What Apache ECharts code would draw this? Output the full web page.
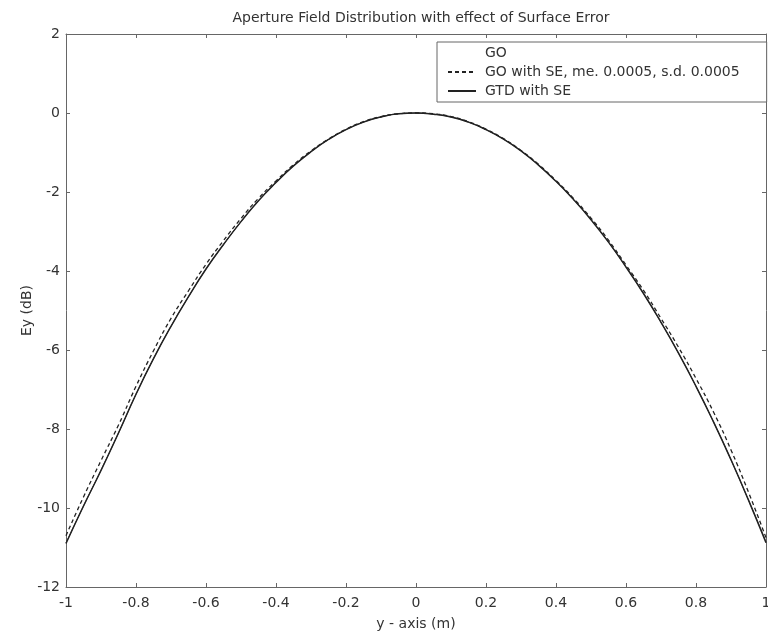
<!DOCTYPE html>
<html>
<head>
<meta charset="utf-8">
<script src="https://cdn.jsdelivr.net/npm/echarts@6/dist/echarts.min.js"></script>
<style>
html,body{margin:0;padding:0;background:#fff;overflow:hidden;}
#chart{width:768px;height:636px;}
</style>
</head>
<body>
<div id="chart"></div>
<script>
// y-axis positions (m)
var yPos = [-1,-0.95,-0.9,-0.85,-0.8,-0.75,-0.7,-0.65,-0.6,-0.55,-0.5,-0.45,-0.4,-0.35,-0.3,-0.25,-0.2,-0.15,-0.1,-0.05,0,
            0.05,0.1,0.15,0.2,0.25,0.3,0.35,0.4,0.45,0.5,0.55,0.6,0.65,0.7,0.75,0.8,0.85,0.9,0.95,1];
// GO (dB)
var goVals = [-10.88,-9.95,-9.04,-8.1,-7.12,-6.22,-5.4,-4.65,-3.95,-3.33,-2.75,-2.22,-1.76,-1.34,-0.98,-0.67,-0.42,-0.23,-0.1,-0.02,0,
              -0.03,-0.1,-0.23,-0.42,-0.66,-0.96,-1.32,-1.73,-2.19,-2.7,-3.27,-3.9,-4.57,-5.3,-6.08,-6.92,-7.82,-8.78,-9.8,-10.85];
// GO with SE, me. 0.0005, s.d. 0.0005 (dB)
var goSeVals = [-10.7,-9.72,-8.8,-7.9,-6.92,-6.02,-5.2,-4.5,-3.83,-3.23,-2.67,-2.16,-1.72,-1.31,-0.96,-0.66,-0.41,-0.22,-0.09,-0.02,0,
                -0.02,-0.09,-0.22,-0.41,-0.65,-0.95,-1.3,-1.71,-2.16,-2.66,-3.22,-3.85,-4.49,-5.2,-5.93,-6.72,-7.57,-8.53,-9.6,-10.75];
// GTD with SE (dB)
var gtdVals = [-10.9,-9.95,-9.05,-8.1,-7.12,-6.22,-5.4,-4.65,-3.95,-3.33,-2.75,-2.22,-1.76,-1.34,-0.98,-0.67,-0.42,-0.23,-0.1,-0.02,0,
               -0.03,-0.1,-0.23,-0.42,-0.66,-0.96,-1.32,-1.73,-2.19,-2.7,-3.27,-3.9,-4.57,-5.3,-6.08,-6.92,-7.82,-8.78,-9.8,-10.88];
var xTickLabels = ['-1','-0.8','-0.6','-0.4','-0.2','0','0.2','0.4','0.6','0.8','1'];
var yTickLabels = ['-12','-10','-8','-6','-4','-2','0','2'];

function pairs(vals){ return yPos.map(function(x,i){ return [x, vals[i]]; }); }

var FONT = 'DejaVu Sans, Liberation Sans, Arial, sans-serif';
var TXT = '#333';
var AX = '#666';

var chart = echarts.init(document.getElementById('chart'), null, {renderer:'canvas', width:768, height:636});
var tickFmtX = function(v){ var i = Math.round((v+1)/0.2); return xTickLabels[i] || ''; };
var tickFmtY = function(v){ var i = Math.round((v+12)/2); return yTickLabels[i] || ''; };

chart.setOption({
  animation:false,
  backgroundColor:'#fff',
  title:{
    text:'Aperture Field Distribution with effect of Surface Error',
    left:416, top:6, textAlign:'center',
    textStyle:{fontFamily:FONT, fontSize:14, fontWeight:'normal', color:TXT}
  },
  legend:{
    orient:'vertical',
    left:437, top:42,
    padding:[4,27,4,10],
    itemWidth:28, itemHeight:14, itemGap:5,
    borderColor:AX, borderWidth:1, backgroundColor:'#fff',
    itemStyle:{opacity:0},
    textStyle:{fontFamily:FONT, fontSize:14, color:TXT, padding:[0,0,0,4]},
    data:[
      {name:'GO', lineStyle:{opacity:0}},
      {name:'GO with SE, me. 0.0005, s.d. 0.0005'},
      {name:'GTD with SE'}
    ]
  },
  grid:{left:66, right:2, top:34, bottom:49, containLabel:false, outerBoundsMode:'none'},
  xAxis:[{
    type:'value', min:-1, max:1, interval:0.2,
    name:'y - axis (m)', nameLocation:'middle', nameGap:30, nameMoveOverlap:false,
    nameTextStyle:{fontFamily:FONT, fontSize:14, color:TXT},
    axisLine:{onZero:false, lineStyle:{color:AX, width:1}},
    axisTick:{inside:true, length:4, lineStyle:{color:AX}},
    axisLabel:{fontFamily:FONT, fontSize:14, color:TXT, margin:9, formatter:tickFmtX},
    splitLine:{show:false}
  },{
    type:'value', min:-1, max:1, interval:0.2, position:'top',
    axisLine:{onZero:false, lineStyle:{color:AX, width:1}},
    axisTick:{inside:true, length:4, lineStyle:{color:AX}},
    axisLabel:{show:false}, splitLine:{show:false}
  }],
  yAxis:[{
    type:'value', min:-12, max:2, interval:2,
    name:'Ey (dB)', nameLocation:'middle', nameGap:32, nameRotate:90, nameMoveOverlap:false,
    nameTextStyle:{fontFamily:FONT, fontSize:14, color:TXT},
    axisLine:{onZero:false, lineStyle:{color:AX, width:1}},
    axisTick:{inside:true, length:4, lineStyle:{color:AX}},
    axisLabel:{fontFamily:FONT, fontSize:14, color:TXT, margin:6, formatter:tickFmtY},
    splitLine:{show:false}
  },{
    type:'value', min:-12, max:2, interval:2, position:'right',
    axisLine:{onZero:false, lineStyle:{color:AX, width:1}},
    axisTick:{inside:true, length:4, lineStyle:{color:AX}},
    axisLabel:{show:false}, splitLine:{show:false}
  }],
  series:[
    {name:'GO', type:'line', data:pairs(goVals), smooth:true, showSymbol:false, symbol:'none',
     lineStyle:{color:'#444', width:1}, itemStyle:{color:'#444'}, z:1},
    {name:'GO with SE, me. 0.0005, s.d. 0.0005', type:'line', data:pairs(goSeVals), smooth:true, showSymbol:false, symbol:'none',
     lineStyle:{color:'#222', width:1.3, type:[4,3]}, itemStyle:{color:'#222'}, z:3},
    {name:'GTD with SE', type:'line', data:pairs(gtdVals), smooth:true, showSymbol:false, symbol:'none',
     lineStyle:{color:'#222', width:1.5}, itemStyle:{color:'#222'}, z:2}
  ]
});
</script>
</body>
</html>
